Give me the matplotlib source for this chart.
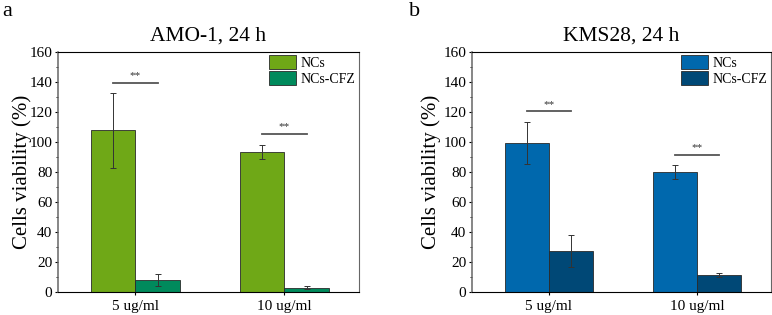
import matplotlib
matplotlib.use('Agg')
import matplotlib.pyplot as plt
from matplotlib.ticker import MultipleLocator
import numpy as np

plt.rcParams['font.family'] = ['Liberation Serif', 'DejaVu Serif']

groups = ['5 ug/ml', '10 ug/ml']
series = ['NCs', 'NCs-CFZ']

amo_mean = [[108.0, 93.5], [8.0, 3.0]]
amo_err = [[25.0, 4.5], [4.0, 0.7]]
kms_mean = [[99.5, 80.0], [27.5, 11.5]]
kms_err = [[14.0, 4.5], [10.5, 1.5]]

# significance bars: (group index, height)
amo_sig = [(0, 139.5), (1, 105.5)]
kms_sig = [(0, 120.5), (1, 91.5)]

panels = [
    ('a', 'AMO-1, 24 h', amo_mean, amo_err, amo_sig, ['#6fa817', '#008a5c']),
    ('b', 'KMS28, 24 h', kms_mean, kms_err, kms_sig, ['#0068ad', '#004876']),
]

fig = plt.figure(figsize=(7.72, 3.15), dpi=100)
W, H = 772, 315
axes_px = [(58, 359), (472, 771)]
label_px = [2, 409]
ylabel_x = [-0.088, -0.104]

width = 0.3
x = np.arange(1, len(groups) + 1)

for k, (label, title, means, errs, sigs, colors) in enumerate(panels):
    x0, x1 = axes_px[k]
    ax = fig.add_axes([x0 / W, (H - 292) / H, (x1 - x0) / W, 240 / H])
    for i, name in enumerate(series):
        pos = x + (i - 0.5) * width
        ax.bar(pos, means[i], width, color=colors[i], edgecolor='#2a2a2a',
               linewidth=0.6, label=name, zorder=2)
        ax.errorbar(pos, means[i], yerr=errs[i], fmt='none', ecolor='#333333',
                    elinewidth=0.7, capsize=2.5, capthick=0.7, zorder=3)
    for g, h in sigs:
        xa = x[g] - width / 2
        xb = x[g] + width / 2
        ax.plot([xa, xb], [h, h], color='#555555', linewidth=1.3, zorder=3)
        ax.text((xa + xb) / 2, h + 1.5, '**', ha='center', va='bottom',
                fontsize=8, color='#333333')

    ax.set_xlim(0.48, 2.5)
    ax.set_ylim(0, 160)
    ax.set_xticks(x)
    ax.set_xticklabels(groups, fontsize=11)
    ax.yaxis.set_major_locator(MultipleLocator(20))
    ax.yaxis.set_minor_locator(MultipleLocator(10))
    ax.tick_params(axis='y', labelsize=11, pad=1.5)
    ax.tick_params(axis='x', pad=3)
    ax.tick_params(axis='both', direction='out', length=2.5, width=0.8)
    ax.tick_params(axis='y', which='minor', length=1.8, width=0.6)
    for s in ax.spines.values():
        s.set_linewidth(0.8)
    ax.spines['left'].set_color('#666666')
    ax.spines['left'].set_linewidth(1.1)
    ax.spines['right'].set_color('#666666')
    ax.set_ylabel('Cells viability (%)', fontsize=15)
    ax.yaxis.set_label_coords(ylabel_x[k], 0.5)
    ax.set_title(title, fontsize=15.5, pad=8)

    ax.legend(loc='upper right', frameon=False, fontsize=10,
              handlelength=2.0, handleheight=1.1, handletextpad=0.3,
              borderaxespad=0.15, labelspacing=0.1, borderpad=0.1)

    fig.text(label_px[k] / W, 1 - 12 / H, label, fontsize=16, ha='left', va='center')

fig.savefig('out.png', dpi=100, facecolor='white')
